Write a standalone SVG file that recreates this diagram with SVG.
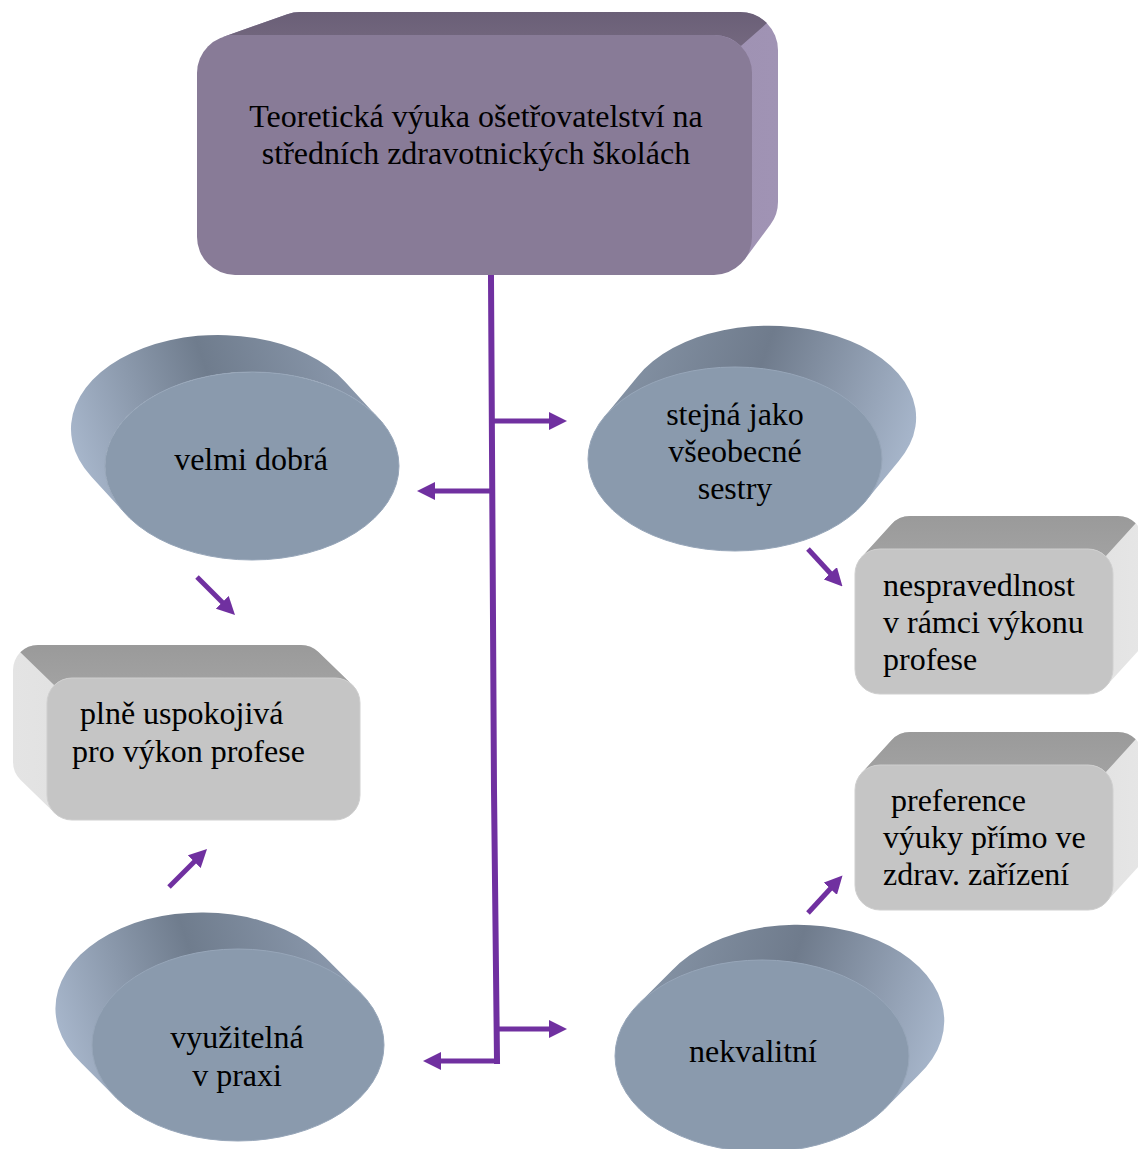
<svg xmlns="http://www.w3.org/2000/svg" width="1138" height="1149" viewBox="0 0 1138 1149">
  <defs>
    <style>
      text { font-family: "Liberation Serif", "Times New Roman", serif; font-size: 32px; fill: #000; }
      .mid { text-anchor: middle; }
      .conn { stroke: #7030a0; stroke-width: 5; fill: none; }
      .trunk { stroke: #7030a0; stroke-width: 6; fill: none; stroke-linecap: square; }
      .disc-front { fill: #8a9aad; stroke: #97a6b9; stroke-width: 1; }
      .box-front { fill: #c5c5c5; stroke: #cfcfcf; stroke-width: 1; }
      .box-top { fill: url(#boxTop); }
    </style>
    <marker id="arrow" markerUnits="userSpaceOnUse" markerWidth="18" markerHeight="18" viewBox="0 0 18 18" refX="1" refY="9" orient="auto">
      <path d="M0,0 L18,9 L0,18 Z" fill="#7030a0"/>
    </marker>
    <!-- side of discs extruded to the upper left -->
    <linearGradient id="discSideL" x1="0" y1="0.6" x2="1" y2="0.4">
      <stop offset="0" stop-color="#a7b6cb"/>
      <stop offset="0.5" stop-color="#6f7c8d"/>
      <stop offset="1" stop-color="#8c9aae"/>
    </linearGradient>
    <!-- side of discs extruded to the upper right -->
    <linearGradient id="discSideR" x1="0" y1="0.4" x2="1" y2="0.6">
      <stop offset="0" stop-color="#8593a5"/>
      <stop offset="0.45" stop-color="#6f7b8c"/>
      <stop offset="1" stop-color="#a7b6cb"/>
    </linearGradient>
    <linearGradient id="boxTop" x1="0" y1="0" x2="0" y2="1">
      <stop offset="0" stop-color="#9a9a9a"/>
      <stop offset="1" stop-color="#a2a2a2"/>
    </linearGradient>
    <linearGradient id="boxSideL" x1="0" y1="0" x2="1" y2="0">
      <stop offset="0" stop-color="#e4e4e4"/>
      <stop offset="1" stop-color="#d2d2d2"/>
    </linearGradient>
    <linearGradient id="boxSideR" x1="0" y1="0" x2="1" y2="0">
      <stop offset="0" stop-color="#cfcfcf"/>
      <stop offset="1" stop-color="#e6e6e6"/>
    </linearGradient>
    <linearGradient id="headTop" x1="0" y1="0" x2="0" y2="1">
      <stop offset="0" stop-color="#6a5f77"/>
      <stop offset="1" stop-color="#74687f"/>
    </linearGradient>
    <linearGradient id="headSide" x1="0" y1="0" x2="1" y2="0">
      <stop offset="0" stop-color="#9487a8"/>
      <stop offset="1" stop-color="#a093b4"/>
    </linearGradient>
  </defs>

  <!-- heading block -->
  <g id="node-heading">
    <path d="M222.3,37.2 L287.3,14.2 A38,38 0 0 1 300,12 L740,12 A38,38 0 0 1 778,50 L778,202 A38,38 0 0 1 770.5,224.6 L744.5,259.6 Z" fill="url(#headSide)"/>
    <path d="M222.3,37.2 L287.3,14.2 A38,38 0 0 1 300,12 L740,12 A38,38 0 0 1 766.9,23.1 L740.9,46.1 A38,38 0 0 0 714,35 L235,35 A38,38 0 0 0 222.3,37.2 Z" fill="url(#headTop)"/>
    <rect x="197" y="35" width="555" height="240" rx="38" fill="#887b97"/>
    <text class="mid" x="476" y="127">Teoretická výuka ošetřovatelství na</text>
    <text class="mid" x="476" y="164">středních zdravotnických školách</text>
  </g>

  <!-- connectors -->
  <g id="connectors">
    <polyline class="trunk" points="491,278 494,790 497,1061"/>
    <line class="conn" x1="494" y1="421" x2="550" y2="421" marker-end="url(#arrow)"/>
    <line class="conn" x1="491" y1="491" x2="434" y2="491" marker-end="url(#arrow)"/>
    <line class="conn" x1="494" y1="1029" x2="550" y2="1029" marker-end="url(#arrow)"/>
    <line class="conn" x1="497" y1="1061" x2="440" y2="1061" marker-end="url(#arrow)"/>
    <line class="conn" x1="197" y1="577" x2="223" y2="603" marker-end="url(#arrow)"/>
    <line class="conn" x1="169" y1="887" x2="195" y2="861" marker-end="url(#arrow)"/>
    <line class="conn" x1="808" y1="549" x2="831" y2="574" marker-end="url(#arrow)"/>
    <line class="conn" x1="808" y1="913" x2="831" y2="888" marker-end="url(#arrow)"/>
  </g>

  <!-- disc: velmi dobrá -->
  <g id="node-velmi-dobra">
    <path d="M378.8,418.4 L344.8,381.4 A147,94 0 1 0 91.2,476.6 L125.2,513.6 A147,94 0 0 1 378.8,418.4 Z" fill="url(#discSideL)"/>
    <ellipse class="disc-front" cx="252" cy="466" rx="147" ry="94"/>
    <text class="mid" x="251" y="470">velmi dobrá</text>
  </g>

  <!-- disc: stejná jako všeobecné sestry -->
  <g id="node-stejna">
    <path d="M604.4,416.8 L637.4,376.8 A147,92 0 1 1 898.6,461.2 L865.6,501.2 A147,92 0 0 0 604.4,416.8 Z" fill="url(#discSideR)"/>
    <ellipse class="disc-front" cx="735" cy="459" rx="147" ry="92"/>
    <text class="mid" x="735" y="425">stejná jako</text>
    <text class="mid" x="735" y="462">všeobecné</text>
    <text class="mid" x="735" y="499">sestry</text>
  </g>

  <!-- disc: využitelná v praxi -->
  <g id="node-vyuzitelna">
    <path d="M360,992.3 L325,957.3 A146,96 0 1 0 81,1062.7 L116,1097.7 A146,96 0 0 1 360,992.3 Z" fill="url(#discSideL)"/>
    <ellipse class="disc-front" cx="238" cy="1045" rx="146" ry="96"/>
    <text class="mid" x="237" y="1048">využitelná</text>
    <text class="mid" x="237" y="1086">v praxi</text>
  </g>

  <!-- disc: nekvalitní -->
  <g id="node-nekvalitni">
    <path d="M638.9,1003.6 L671.9,970.6 A147,96 0 1 1 918.1,1075.4 L885.1,1108.4 A147,96 0 0 0 638.9,1003.6 Z" fill="url(#discSideR)"/>
    <ellipse class="disc-front" cx="762" cy="1056" rx="147" ry="96"/>
    <text class="mid" x="753" y="1062">nekvalitní</text>
  </g>

  <!-- block: plně uspokojivá (extruded up-left) -->
  <g id="node-plne" transform="translate(47,678)">
    <path d="M7.6,134.9 L-26.4,101.9 A25,25 0 0 1 -34,84 L-34,-8 A25,25 0 0 1 -9,-33 L254,-33 A25,25 0 0 1 271.4,-25.9 L305.4,7.1 Z" fill="url(#boxSideL)"/>
    <path d="M-26.7,-25.7 A25,25 0 0 1 -9,-33 L254,-33 A25,25 0 0 1 271.4,-25.9 L305.4,7.1 A25,25 0 0 0 288,0 L25,0 A25,25 0 0 0 7.3,7.3 Z" class="box-top"/>
    <rect class="box-front" x="0" y="0" width="313" height="142" rx="25"/>
    <text x="33" y="46">plně uspokojivá</text>
    <text x="25" y="84">pro výkon profese</text>
  </g>

  <!-- block: nespravedlnost (extruded up-right) -->
  <g id="node-nespravedlnost" transform="translate(855,549)">
    <path d="M6.5,8.2 L36.5,-24.8 A25,25 0 0 1 55,-33 L263,-33 A25,25 0 0 1 288,-8 L288,87 A25,25 0 0 1 281.5,103.8 L251.5,136.8 Z" fill="url(#boxSideR)"/>
    <path d="M6.5,8.2 L36.5,-24.8 A25,25 0 0 1 55,-33 L263,-33 A25,25 0 0 1 280.7,-25.7 L250.7,7.3 A25,25 0 0 0 233,0 L25,0 A25,25 0 0 0 6.5,8.2 Z" class="box-top"/>
    <rect class="box-front" x="0" y="0" width="258" height="145" rx="25"/>
    <text x="28" y="47">nespravedlnost</text>
    <text x="28" y="84">v rámci výkonu</text>
    <text x="28" y="121">profese</text>
  </g>

  <!-- block: preference (extruded up-right) -->
  <g id="node-preference" transform="translate(855,765)">
    <path d="M6.5,8.2 L36.5,-24.8 A25,25 0 0 1 55,-33 L263,-33 A25,25 0 0 1 288,-8 L288,87 A25,25 0 0 1 281.5,103.8 L251.5,136.8 Z" fill="url(#boxSideR)"/>
    <path d="M6.5,8.2 L36.5,-24.8 A25,25 0 0 1 55,-33 L263,-33 A25,25 0 0 1 280.7,-25.7 L250.7,7.3 A25,25 0 0 0 233,0 L25,0 A25,25 0 0 0 6.5,8.2 Z" class="box-top"/>
    <rect class="box-front" x="0" y="0" width="258" height="145" rx="25"/>
    <text x="36" y="46">preference</text>
    <text x="28" y="83">výuky přímo ve</text>
    <text x="28" y="120">zdrav. zařízení</text>
  </g>
</svg>
